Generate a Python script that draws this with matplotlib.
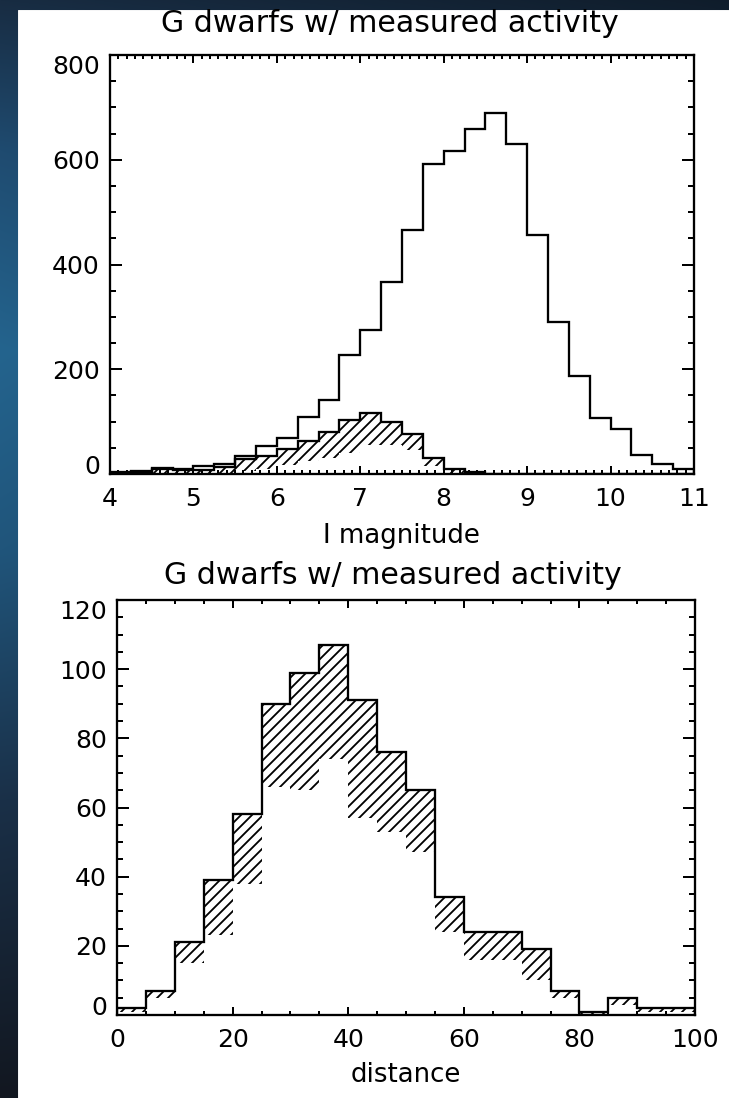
import numpy as np
import matplotlib
matplotlib.use("Agg")
import matplotlib.pyplot as plt
from matplotlib.ticker import MultipleLocator
from matplotlib.patches import Rectangle

# ---------------- data ----------------
mag_edges = np.arange(4.0, 11.0001, 0.25)
mag_all = [4, 5, 11, 9, 15, 20, 35, 53, 69, 109, 141, 227, 274, 367,
           466, 591, 617, 658, 690, 630, 457, 290, 187, 107, 86, 37, 19, 10]
mag_active = [2, 2, 10, 7, 7, 14, 28, 35, 48, 63, 80, 104, 116, 100,
              77, 31, 9, 3, 0, 0, 0, 0, 0, 0, 0, 0, 0, 0]
mag_blank = [0, 0, 0, 0, 0, 0, 5, 10, 18, 25, 30, 40, 55, 55,
             45, 15, 0, 0, 0, 0, 0, 0, 0, 0, 0, 0, 0, 0]
mag_ticks = [4, 5, 6, 7, 8, 9, 10, 11]
mag_count_ticks = [0, 200, 400, 600, 800]

dist_edges = np.arange(0, 101, 5)
dist_all = [2, 7, 21, 39, 58, 90, 99, 107, 91, 76, 65, 34, 24, 24, 19, 7, 1, 5, 2, 2]
dist_blank = [1, 5, 15, 23, 38, 66, 65, 74, 57, 53, 47, 24, 16, 16, 10, 5, 0, 3, 1, 1]
dist_ticks = [0, 20, 40, 60, 80, 100]
dist_count_ticks = [0, 20, 40, 60, 80, 100, 120]

title_text = "G dwarfs w/ measured activity"
xlabel_top = "I magnitude"
xlabel_bot = "distance"

# ---------------- figure ----------------
W, H, DPI = 729, 1098, 66
plt.rcParams['font.family'] = ['DejaVu Sans']
plt.rcParams['hatch.linewidth'] = 2.0
fig = plt.figure(figsize=(W / DPI, H / DPI), dpi=DPI)

def pt(px):
    return px * 72.0 / DPI

# background gradient (slide) + white page
bg = fig.add_axes([0, 0, 1, 1])
bg.axis('off')
yk = np.array([0, 150, 350, 550, 800, 1098])
ck = np.array([[0x18, 0x2c, 0x42], [0x1f, 0x4b, 0x70], [0x24, 0x64, 0x8e],
               [0x20, 0x55, 0x7b], [0x1a, 0x30, 0x48], [0x12, 0x17, 0x20]]) / 255.0
yy = np.arange(H)
col = np.stack([np.interp(yy, yk, ck[:, i]) for i in range(3)], axis=1)
fx = 1 - 0.35 * (np.arange(W) / W)
img = col[:, None, :] * fx[None, :, None]
bg.imshow(img, extent=[0, 1, 0, 1], aspect='auto', origin='upper')
bg.set_xlim(0, 1); bg.set_ylim(0, 1)
bg.add_patch(Rectangle((18 / W, 0), 1 - 18 / W, 1 - 10 / H, color='white',
                       transform=bg.transAxes))

def px_axes(l, t, r, b):
    return fig.add_axes([l / W, 1 - b / H, (r - l) / W, (b - t) / H])

ax1 = px_axes(110, 55, 694, 474)
ax2 = px_axes(117, 600, 695, 1015)

TICK_FS = pt(25)
LAB_FS = pt(26)
TITLE_FS = pt(30)
LW = pt(2.3)

def style(ax, xticks, xmin, yticks, ymin, w, h):
    for s in ax.spines.values():
        s.set_linewidth(pt(2.3))
    ax.set_xticks(xticks)
    ax.set_yticks(yticks)
    ax.xaxis.set_minor_locator(MultipleLocator(xmin))
    ax.yaxis.set_minor_locator(MultipleLocator(ymin))
    ax.tick_params(which='both', direction='in', top=True, right=True,
                   width=pt(2.0), labelsize=TICK_FS, colors='black')
    ax.tick_params(axis='x', which='major', length=pt(0.02 * h), pad=pt(13))
    ax.tick_params(axis='x', which='minor', length=pt(0.01 * h))
    ax.tick_params(axis='y', which='major', length=pt(0.02 * w), pad=pt(10))
    ax.tick_params(axis='y', which='minor', length=pt(0.01 * w))
    labs = ax.get_yticklabels()
    labs[0].set_va('baseline')
    labs[-1].set_va('top')

# ---------------- top panel ----------------
ax1.stairs(mag_active, mag_edges, fill=True, facecolor='white', edgecolor='black',
           hatch='//', linewidth=0, zorder=1)
ax1.stairs(mag_blank, mag_edges, fill=True, facecolor='white', edgecolor='none',
           linewidth=0, zorder=1.2)
ax1.stairs(mag_active, mag_edges, color='black', linewidth=LW, zorder=2)
ax1.stairs(mag_all, mag_edges, color='black', linewidth=LW, zorder=2.1)
ax1.set_xlim(4, 11)
ax1.set_ylim(0, 800)
style(ax1, mag_ticks, 0.1, mag_count_ticks, 50, 584, 419)

# ---------------- bottom panel ----------------
ax2.stairs(dist_all, dist_edges, fill=True, facecolor='white', edgecolor='black',
           hatch='//', linewidth=0, zorder=1)
ax2.stairs(dist_blank, dist_edges, fill=True, facecolor='white', edgecolor='none',
           linewidth=0, zorder=1.2)
ax2.stairs(dist_all, dist_edges, color='black', linewidth=LW, zorder=2)
ax2.set_xlim(0, 100)
ax2.set_ylim(0, 120)
style(ax2, dist_ticks, 5, dist_count_ticks, 5, 578, 415)

# titles and labels
fig.text(390 / W, 1 - 24 / H, title_text, ha='center', va='center', fontsize=TITLE_FS)
fig.text(401 / W, 1 - 536 / H, xlabel_top, ha='center', va='center', fontsize=LAB_FS)
fig.text(393 / W, 1 - 575 / H, title_text, ha='center', va='center', fontsize=TITLE_FS)
fig.text(406 / W, 1 - 1075 / H, xlabel_bot, ha='center', va='center', fontsize=LAB_FS)

fig.savefig("out.png", dpi=DPI)
